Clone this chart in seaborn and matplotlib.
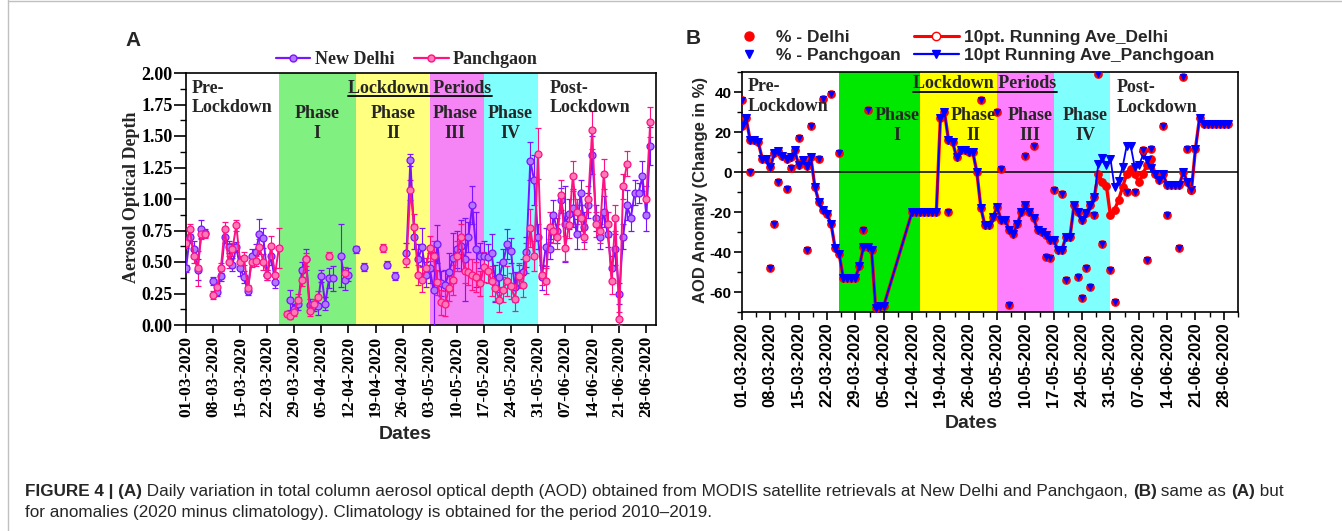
import matplotlib
matplotlib.use("Agg")
import matplotlib.pyplot as plt
import matplotlib.dates as mdates
from matplotlib import font_manager
from matplotlib.lines import Line2D
from matplotlib.ticker import MultipleLocator
import numpy as np
import pandas as pd
import seaborn as sns

nan = np.nan
START = "2020-03-01"   # day 0 of every daily series below (01-03-2020 .. 30-06-2020)

# ---- Panel A: daily AOD (one value per day, nan = no retrieval)
delhi_aod = [
    0.45, 0.70, 0.60, 0.44, 0.76, 0.73, nan, 0.35, 0.26, 0.39,
    0.70, 0.62, 0.48, 0.62, 0.45, 0.38, 0.27, 0.55, 0.58, 0.72,
    0.69, 0.40, 0.55, 0.34, nan, nan, nan, 0.20, 0.13, 0.17,
    0.44, 0.52, 0.16, 0.15, 0.15, 0.39, 0.17, 0.37, 0.37, nan,
    0.55, 0.36, 0.40, nan, 0.60, nan, 0.46, nan, nan, nan,
    nan, nan, 0.48, nan, 0.39, nan, nan, 0.57, 1.31, 0.70,
    0.52, 0.62, 0.40, 0.45, 0.28, 0.64, 0.33, 0.32, 0.42, 0.53,
    0.60, 0.63, 0.52, 0.70, 0.95, 0.60, 0.55, 0.55, 0.54, 0.57,
    0.33, 0.38, 0.50, 0.64, 0.59, 0.30, 0.40, 0.42, 0.58, 1.30,
    1.15, 0.70, 0.38, 0.62, 0.60, 0.87, 0.75, 0.99, 0.80, 0.88,
    0.93, 0.72, 1.05, 0.78, 0.95, 1.35, 0.85, 0.70, 0.90, 0.72,
    0.45, 0.60, 0.25, 0.70, 0.95, 0.85, 1.05, 1.05, 1.18, 0.87,
    1.42, nan,
]
delhi_err = [
    0.03, 0.05, 0.07, 0.08, 0.07, 0.03, nan, 0.03, 0.03, 0.04,
    0.05, 0.05, 0.05, 0.04, 0.06, 0.05, 0.03, 0.05, 0.06, 0.12,
    0.08, 0.04, 0.07, 0.05, nan, nan, nan, 0.08, 0.04, 0.05,
    0.06, 0.08, 0.05, 0.04, 0.07, 0.05, 0.05, 0.08, 0.10, nan,
    0.25, 0.08, 0.05, nan, 0.03, nan, 0.03, nan, nan, nan,
    nan, nan, 0.03, nan, 0.03, nan, nan, 0.08, 0.05, 0.10,
    0.12, 0.15, 0.10, 0.12, 0.30, 0.15, 0.10, 0.12, 0.15, 0.20,
    0.15, 0.20, 0.33, 0.12, 0.15, 0.30, 0.10, 0.12, 0.10, 0.15,
    0.15, 0.12, 0.10, 0.12, 0.10, 0.12, 0.08, 0.10, 0.12, 0.15,
    0.20, 0.10, 0.10, 0.15, 0.08, 0.12, 0.10, 0.10, 0.30, 0.12,
    0.15, 0.12, 0.10, 0.12, 0.10, 0.15, 0.10, 0.10, 0.12, 0.10,
    0.10, 0.12, 0.08, 0.10, 0.12, 0.10, 0.10, 0.08, 0.12, 0.12,
    0.15, nan,
]
panch_aod = [
    0.65, 0.76, 0.55, 0.45, 0.72, 0.72, nan, 0.24, 0.30, 0.45,
    0.76, 0.50, 0.60, 0.79, 0.50, 0.53, 0.29, 0.50, 0.51, 0.62,
    0.50, 0.40, 0.63, 0.40, 0.61, nan, 0.09, 0.07, 0.10, 0.20,
    0.36, 0.52, 0.11, 0.17, 0.22, nan, nan, 0.55, nan, nan,
    nan, 0.41, nan, nan, nan, nan, nan, nan, nan, nan,
    nan, 0.61, nan, nan, nan, nan, nan, 0.51, 1.07, 0.78,
    0.40, 0.36, 0.45, 0.61, 0.55, 0.34, 0.18, 0.17, 0.29, 0.36,
    0.55, 0.70, 0.43, 0.42, 0.40, 0.38, 0.33, 0.46, 0.43, 0.35,
    0.29, 0.20, 0.28, 0.35, 0.31, 0.21, 0.39, 0.32, 0.53, 0.77,
    0.55, 1.36, 0.40, 0.35, 0.78, 0.75, 0.70, 1.03, 0.61, 0.79,
    1.18, 0.90, 0.85, 0.70, 1.00, 1.55, 0.80, 0.75, 1.20, 0.80,
    0.35, 0.85, 0.05, 1.10, 1.28, nan, nan, nan, nan, 1.00,
    1.61, nan,
]
panch_err = [
    0.04, 0.04, 0.06, 0.14, 0.04, 0.03, nan, 0.03, 0.03, 0.04,
    0.06, 0.05, 0.05, 0.04, 0.05, 0.05, 0.03, 0.04, 0.04, 0.06,
    0.06, 0.04, 0.08, 0.05, 0.16, nan, 0.02, 0.02, 0.03, 0.05,
    0.05, 0.05, 0.04, 0.04, 0.05, nan, nan, 0.03, nan, nan,
    nan, 0.05, nan, nan, nan, nan, nan, nan, nan, nan,
    nan, 0.03, nan, nan, nan, nan, nan, 0.05, 0.08, 0.10,
    0.08, 0.10, 0.08, 0.10, 0.12, 0.10, 0.10, 0.10, 0.10, 0.12,
    0.12, 0.10, 0.10, 0.10, 0.12, 0.12, 0.10, 0.12, 0.10, 0.12,
    0.10, 0.10, 0.10, 0.12, 0.10, 0.10, 0.10, 0.10, 0.12, 0.15,
    0.12, 0.20, 0.08, 0.10, 0.12, 0.10, 0.10, 0.12, 0.10, 0.10,
    0.12, 0.10, 0.10, 0.10, 0.10, 0.15, 0.10, 0.10, 0.12, 0.10,
    0.10, 0.10, 0.05, 0.10, 0.10, nan, nan, nan, nan, 0.10,
    0.12, nan,
]
aod_ticks = [0.0, 0.25, 0.5, 0.75, 1.0, 1.25, 1.5, 1.75, 2.0]

# ---- Panel B: anomaly in % (scatter days given as offsets from START)
pct_day = [0, 2, 7, 8, 9, 11, 12, 14, 16, 17, 19, 20, 22, 24, 30, 31, 51,
           59, 63, 64, 66, 70, 72, 75, 76, 77, 79, 80, 83, 84, 85, 86, 87,
           88, 89, 91, 92, 95, 97, 99, 100, 101, 104, 105, 108, 109, 110, 111]
delhi_pct = [35.8, 0, -47.8, -25.8, -5, -8.3, 2, 17, -39, 23, 6.7, 36.7, 39, 9.5, -29, 31, -20,
             36, 30, 1.7, -66.7, 8, 13, -42.5, -43, -9, -11, -54, -52.5, -63, -48, -57.5, -21.7,
             49, -36, -49, -65, -10, -10, 11, -44, 11.7, 23, -21.7, -38, 47.5, 11.7, -9]
panch_pct = [35.8, 0, -47.8, -25.8, -5, -8.3, 2, 17, -39, 23, 6.7, 36.7, 39, 9.5, -29, 31, -20,
             36, 30, 1.7, -66.7, 8, 13, -42.5, -43, -9, -11, -54, -52.5, -63, -48, -57.5, -21.7,
             49, -36, -49, -65, -10, -10, 11, -44, 11.7, 23, -21.7, -38, 47.5, 11.7, -9]

# 10-point running averages (daily)
delhi_ra = [
    23, 27, 16, 16, 15, 6.7, 6.7, 2.5, 9.5, 10.5,
    8, 6.7, 7.5, 10.8, 3.5, 5.8, 2.8, 7.5, -7.5, -15,
    -19, -21, -26, -38, -41, -53, -53, -53, -53, -47,
    -37.5, -37.5, -39, -68, -67, -67, nan, nan, nan, nan,
    nan, nan, -20, -20, -20, -20, -20, -20, -20, 27,
    30, 16, 15, 7.5, 11, 11, 10, 10, 0, -18,
    -26.7, -26.7, -22.5, -17.5, -24, -24, -29, -31, -26, -20,
    -16.7, -20, -23, -29, -30, -31.7, -34, -34, -39, -39,
    -32.5, -32.5, -16.7, -20, -24, -20.5, -16.7, -12.5, -1, -5,
    -7, -21.7, -19, -14, -7.5, -1, 1.7, -1, -5, -1,
    3.3, 6.7, -1, -4, -1, -6.7, -6.7, -6.7, -6.7, 0,
    -5, -9, 11.7, 27, 24, 24, 24, 24, 24, 24,
    24, nan,
]
panch_ra = [
    23, 27, 16, 16, 15, 6.7, 6.7, 2.5, 9.5, 10.5,
    8, 6.7, 7.5, 10.8, 3.5, 5.8, 2.8, 7.5, -7.5, -15,
    -19, -21, -26, -38, -41, -53, -53, -53, -53, -47,
    -37.5, -37.5, -39, -68, -67, -67, nan, nan, nan, nan,
    nan, nan, -20, -20, -20, -20, -20, -20, -20, 27,
    30, 16, 15, 7.5, 11, 11, 10, 10, 0, -18,
    -26.7, -26.7, -22.5, -17.5, -24, -24, -29, -31, -26, -20,
    -16.7, -20, -23, -29, -30, -31.7, -34, -34, -39, -39,
    -32.5, -32.5, -16.7, -20, -24, -20.5, -16.7, -12.5, 4, 7,
    3.3, 6.7, -7.5, -4.5, 2.5, 13, 13, 2.5, 3.3, 8.3,
    6, 2, -1, -4, -1, -6.7, -6.7, -6.7, -6.7, 0,
    -5, -9, 11.7, 27, 24, 24, 24, 24, 24, 24,
    24, nan,
]

phase_edges = ["2020-03-25", "2020-04-14", "2020-05-03", "2020-05-17", "2020-05-31"]
phase_names = ["I", "II", "III", "IV"]
colors_a = ["#80f080", "#ffff80", "#f584f5", "#80ffff"]
colors_b = ["#00e800", "#ffff00", "#ff80ff", "#80ffff"]

W, H = 1342, 531
SERIF = ["Liberation Serif", "DejaVu Serif"]
SANS = ["Liberation Sans", "DejaVu Sans"]
names = {f.name for f in font_manager.fontManager.ttflist}
NARROW = ["Liberation Sans Narrow", "Liberation Sans"] if "Liberation Sans Narrow" in names else SANS


def fx(px):
    return px / W


def fy(py):
    return 1 - py / H


sns.set_theme(style="ticks")
plt.rcParams.update({
    "font.family": SANS,
    "axes.edgecolor": "black",
    "axes.linewidth": 1.2,
    "axes.unicode_minus": False,
    "xtick.color": "black",
    "ytick.color": "black",
    "xtick.direction": "out",
    "ytick.direction": "out",
})

dates = pd.date_range(START, periods=len(delhi_aod), freq="D")
start = pd.Timestamp(START)
xmin, xmax = start, start + pd.Timedelta(days=121.5)
weeks = pd.date_range(START, "2020-06-28", freq="7D")
edges = [pd.Timestamp(e) for e in phase_edges]

fig = plt.figure(figsize=(W / 100, H / 100), dpi=100)
axA = fig.add_axes([fx(186), fy(325), fx(656) - fx(186), fy(73) - fy(325)])
axB = fig.add_axes([fx(742), fy(312), fx(1238) - fx(742), fy(72) - fy(312)])

# ---------------- panel A
for i, c in enumerate(colors_a):
    axA.axvspan(edges[i], edges[i + 1], color=c, lw=0, zorder=0)

purple, pink = "#7b14ff", "#ff1283"
for vals, errs, col, face in [(delhi_aod, delhi_err, purple, "#b277ff"),
                              (panch_aod, panch_err, pink, "#ff78b8")]:
    axA.errorbar(dates, vals, yerr=errs, color=col, lw=1.4, marker="o", ms=5,
                 mfc=face, mec=col, mew=0.9, ecolor=col, elinewidth=0.8,
                 capsize=2, zorder=3)

axA.set_xlim(xmin, xmax)
axA.set_ylim(0, 2)
axA.set_yticks(aod_ticks)
axA.set_yticklabels([f"{v:.2f}" for v in aod_ticks])
axA.yaxis.set_minor_locator(MultipleLocator(0.125))
axA.set_xticks(weeks)
axA.xaxis.set_major_formatter(mdates.DateFormatter("%d-%m-%Y"))
axA.tick_params(axis="y", which="major", length=8.5, width=1.2, pad=1)
axA.tick_params(axis="y", which="minor", length=4, width=1.0)
axA.tick_params(axis="x", which="major", length=6, width=1.2, pad=2)
for lab in axA.get_yticklabels():
    lab.set_family(SERIF); lab.set_weight("bold"); lab.set_size(13)
for lab in axA.get_xticklabels():
    lab.set_family(SERIF); lab.set_weight("bold"); lab.set_size(12.5); lab.set_rotation(90)
axA.set_ylabel("Aerosol Optical Depth", family=SERIF, weight="bold", size=13, va="center")
axA.yaxis.set_label_coords((131.7 - 186) / 470, 0.508)
axA.set_xlabel("Dates", family=SANS, weight="bold", size=14, va="center")
axA.xaxis.set_label_coords((405 - 186) / 470, (325 - 435) / 252)

legA = [Line2D([], [], color=purple, lw=1.6, marker="o", ms=5, mfc="#b277ff", mec=purple),
        Line2D([], [], color=pink, lw=1.6, marker="o", ms=5, mfc="#ff78b8", mec=pink)]
fig.legend(legA, ["New Delhi", "Panchgaon"], loc="center left", bbox_to_anchor=(fx(276), fy(60)),
           ncol=2, frameon=False, borderpad=0, borderaxespad=0, handlelength=1.9,
           handletextpad=0.25, columnspacing=1.1,
           prop={"family": SERIF, "weight": "bold", "size": 13})

# ---------------- panel B
for i, c in enumerate(colors_b):
    axB.axvspan(edges[i], edges[i + 1], color=c, lw=0, zorder=0)
axB.axhline(0, color="black", lw=1.1, zorder=1)

ra = pd.DataFrame({"date": dates, "delhi": delhi_ra, "panch": panch_ra})
d_ra = ra[["date", "delhi"]].dropna()
p_ra = ra[["date", "panch"]].dropna()
sns.lineplot(data=d_ra, x="date", y="delhi", ax=axB, color="#ff0000", lw=2.4, marker="o",
             markersize=5.5, markeredgecolor="#ff0000", errorbar=None, zorder=3)
sns.lineplot(data=p_ra, x="date", y="panch", ax=axB, color="#0000ff", lw=1.3, marker="v",
             markersize=5.5, markeredgecolor="#0000ff", errorbar=None, zorder=3.5)

pct_dates = [start + pd.Timedelta(days=d) for d in pct_day]
sns.scatterplot(x=pct_dates, y=delhi_pct, ax=axB, color="#ff0000", marker="o", s=34,
                edgecolor="#ff0000", linewidth=0.4, zorder=4)
sns.scatterplot(x=pct_dates, y=panch_pct, ax=axB, color="#0000ff", marker="v", s=22,
                edgecolor="#0000ff", linewidth=0.4, zorder=4.5)

axB.set_xlim(xmin, xmax)
axB.set_ylim(-70, 50)
axB.yaxis.set_major_locator(MultipleLocator(20))
axB.yaxis.set_minor_locator(MultipleLocator(10))
axB.set_xticks(weeks)
axB.set_xticks(weeks + pd.Timedelta(hours=84), minor=True)
axB.xaxis.set_major_formatter(mdates.DateFormatter("%d-%m-%Y"))
axB.tick_params(axis="both", which="major", length=6, width=1.2, pad=1.5)
axB.tick_params(axis="both", which="minor", length=3.5, width=1.0)
for lab in axB.get_yticklabels():
    lab.set_family(SANS); lab.set_weight("bold"); lab.set_size(11); lab.set_zorder(7)
for lab in axB.get_xticklabels():
    lab.set_family(SANS); lab.set_weight("bold"); lab.set_size(12); lab.set_rotation(90)
axB.set_ylabel("AOD Anomaly (Change in %)", family=SANS, weight="bold", size=12, va="center")
axB.yaxis.set_label_coords((700 - 742) / 496, (312 - 190) / 240)
axB.set_xlabel("Dates", family=SANS, weight="bold", size=14, va="center")
axB.xaxis.set_label_coords((971 - 742) / 496, (312 - 424) / 240)

legB = [Line2D([], [], ls="none", marker="o", ms=6.5, color="#ff0000"),
        Line2D([], [], ls="none", marker="v", ms=6, color="#0000ff"),
        Line2D([], [], color="#ff0000", lw=2.2, marker="o", ms=6, mfc="white", mec="#ff0000"),
        Line2D([], [], color="#0000ff", lw=1.6, marker="v", ms=6, mfc="#0000ff", mec="#0000ff")]
fig.legend(legB, ["% - Delhi", "% - Panchgoan", "10pt. Running Ave_Delhi",
                  "10pt Running Ave_Panchgoan"],
           loc="center left", bbox_to_anchor=(fx(727), fy(46.5)), ncol=2, frameon=False,
           borderpad=0, borderaxespad=0, handlelength=2.55, handletextpad=0.3,
           columnspacing=0.75, labelspacing=0.12,
           prop={"family": SANS, "weight": "bold", "size": 12.5})

# ---------------- period annotations
txt_kw = dict(family=SERIF, weight="bold", size=13, linespacing=1.2, zorder=6)
fig.text(fx(192), fy(98), "Pre-\nLockdown", ha="left", va="center", **txt_kw)
for cx, name in zip([316.7, 393, 455, 510], phase_names):
    fig.text(fx(cx), fy(123.4), f"Phase\n{name}", ha="center", va="center", multialignment="center", **txt_kw)
fig.text(fx(550), fy(98), "Post-\nLockdown", ha="left", va="center", **txt_kw)
tA = fig.text(fx(420), fy(88.3), "Lockdown Periods", ha="center", va="center", **txt_kw)

fig.text(fx(748), fy(96.5), "Pre-\nLockdown", ha="left", va="center", **txt_kw)
for cx, name in zip([896.7, 973, 1030, 1085], phase_names):
    fig.text(fx(cx), fy(125.3), f"Phase\n{name}", ha="center", va="center", multialignment="center", **txt_kw)
fig.text(fx(1116.7), fy(97.5), "Post-\nLockdown", ha="left", va="center", **txt_kw)
tB = fig.text(fx(985), fy(83.3), "Lockdown Periods", ha="center", va="center", **txt_kw)

fig.canvas.draw()
renderer = fig.canvas.get_renderer()
for t, uy in [(tA, 95.7), (tB, 92)]:
    bb = t.get_window_extent(renderer)
    fig.add_artist(Line2D([bb.x0 / W, bb.x1 / W], [fy(uy), fy(uy)], color="black", lw=1.3))

fig.text(fx(133), fy(40), "A", family=SANS, weight="bold", size=15, ha="center", va="center")
fig.text(fx(693), fy(38), "B", family=SANS, weight="bold", size=15, ha="center", va="center")

# ---------------- caption with bold runs
line1 = [("FIGURE 4 | (A)", True),
         (" Daily variation in total column aerosol optical depth (AOD) obtained from MODIS "
          "satellite retrievals at New Delhi and Panchgaon, ", False),
         ("(B)", True), (" same as ", False), ("(A)", True), (" but", False)]
line2 = [("for anomalies (2020 minus climatology). Climatology is obtained for the period 2010\u20132019.",
          False)]


def draw_runs(runs, x0, base_y, size):
    x = x0
    made = []
    for s, bold in runs:
        t = fig.text(fx(x), fy(base_y), s, family=NARROW, size=size,
                     weight="bold" if bold else "normal", ha="left", va="baseline")
        made.append(t)
        x += t.get_window_extent(renderer).width
    return x, made


end, tmp = draw_runs(line1, 25, 496, 10)
for t in tmp:
    t.remove()
cap_size = 10 * (1282 - 25) / (end - 25)
draw_runs(line1, 25, 496, cap_size)
draw_runs(line2, 25, 517, cap_size)

# figure frame lines
fig.add_artist(Line2D([fx(8), fx(8)], [0, 1], color="#c0c0c0", lw=1))
fig.add_artist(Line2D([fx(8), 1], [fy(1), fy(1)], color="#c0c0c0", lw=1))

fig.savefig("out.png", dpi=100)
